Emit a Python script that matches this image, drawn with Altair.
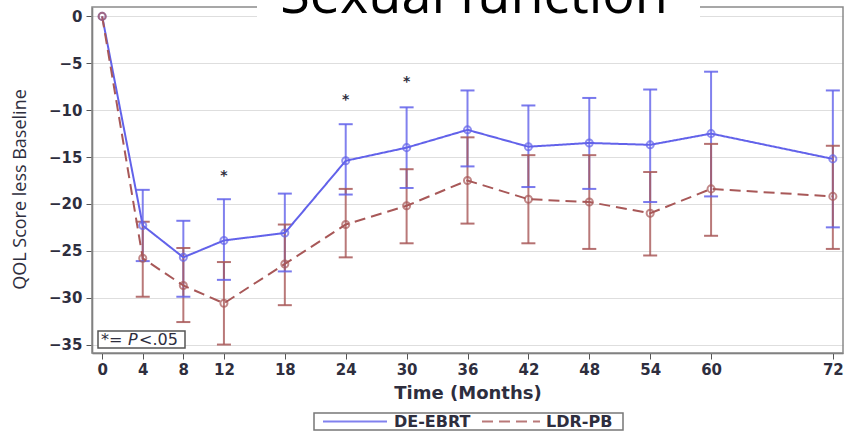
import altair as alt
import pandas as pd

# ---- data ----
months = [0, 4, 8, 12, 18, 24, 30, 36, 42, 48, 54, 60, 72]
ebrt_mean = [0, -22.3, -25.7, -23.9, -23.1, -15.4, -14.0, -12.1, -13.9, -13.5, -13.7, -12.5, -15.2]
ebrt_upper = [None, -18.5, -21.8, -19.5, -18.9, -11.5, -9.7, -7.9, -9.5, -8.7, -7.8, -5.9, -7.9]
ebrt_lower = [None, -26.1, -29.9, -28.1, -27.2, -19.0, -18.3, -16.0, -18.2, -18.4, -19.8, -19.2, -22.5]
ldr_mean = [0, -25.8, -28.7, -30.6, -26.4, -22.2, -20.2, -17.5, -19.5, -19.8, -21.0, -18.4, -19.2]
ldr_upper = [None, -21.9, -24.7, -26.2, -22.2, -18.4, -16.3, -12.9, -14.8, -14.8, -16.6, -13.6, -13.8]
ldr_lower = [None, -29.9, -32.6, -35.0, -30.8, -25.7, -24.2, -22.1, -24.2, -24.8, -25.5, -23.4, -24.8]
series_names = ["DE-EBRT", "LDR-PB"]
sig_months = [12, 24, 30]
sig_y = [-16.6, -8.5, -6.6]
x_ticks = [0, 4, 8, 12, 18, 24, 30, 36, 42, 48, 54, 60, 72]
y_ticks = [0, -5, -10, -15, -20, -25, -30, -35]
title_text = "Sexual function"

BLUE = "#6262ea"
RED = "#a85858"
TXT = "#2e2e3e"
DASH = [11, 6]

rows = []
for name, m, up, lo in [(series_names[0], ebrt_mean, ebrt_upper, ebrt_lower),
                        (series_names[1], ldr_mean, ldr_upper, ldr_lower)]:
    for t, v, u, l in zip(months, m, up, lo):
        rows.append({"month": t, "value": v, "upper": u, "lower": l, "group": name})
df = pd.DataFrame(rows)
df_err = df.dropna(subset=["upper"])
sig_df = pd.DataFrame({"month": sig_months, "y": sig_y})

W, H = 751, 346
xsc = alt.Scale(domain=[-1, 73], nice=False, zero=False)
ysc = alt.Scale(domain=[-35.9, 1.0], nice=False, zero=False)
csc = alt.Scale(domain=series_names, range=[BLUE, RED])
dsc = alt.Scale(domain=series_names, range=[[1, 0], DASH])


def col():
    return alt.Color("group:N", scale=csc, legend=None)


x_enc = alt.X("month:Q", scale=xsc,
              axis=alt.Axis(values=x_ticks, title="Time (Months)", grid=False,
                            labelFontSize=15, labelFont="DejaVu Sans", labelFontWeight="bold",
                            labelColor=TXT, titleFontSize=18, titleFont="DejaVu Sans",
                            titleFontWeight="bold", titleColor=TXT, titlePadding=7,
                            tickSize=6, tickColor="#555", domainColor="#666",
                            domainWidth=1.5, labelPadding=3))
y_enc = alt.Y("value:Q", scale=ysc,
              axis=alt.Axis(values=y_ticks, title="QOL Score less Baseline", grid=True,
                            gridColor="#dedede", labelFontSize=15, labelFont="DejaVu Sans",
                            labelFontWeight="bold", labelColor=TXT,
                            titleFont="Liberation Sans Narrow, Open Sans",
                            titleFontSize=18, titleFontWeight="normal", titleColor=TXT,
                            titleX=-72, titleY=182, titleBaseline="middle", titleAlign="center",
                            tickSize=6, tickColor="#555", domainColor="#666", domainWidth=1.5,
                            labelPadding=4))

base = alt.Chart(df)
one = pd.DataFrame({"a": [0]})

frame = alt.Chart(one).mark_rect(
    fillOpacity=0, stroke="#8a8a8a", strokeWidth=1.5).encode(
    x=alt.value(0), x2=alt.value(W), y=alt.value(0), y2=alt.value(H))

err_rule = alt.Chart(df_err).mark_rule(strokeWidth=2, opacity=0.8).encode(
    x=alt.X("month:Q", scale=xsc), y=alt.Y("upper:Q", scale=ysc), y2="lower:Q",
    color=col())
cap_hi = alt.Chart(df_err).mark_tick(size=14, thickness=2, opacity=0.85,
                                     orient="horizontal").encode(
    x=alt.X("month:Q", scale=xsc), y=alt.Y("upper:Q", scale=ysc), color=col())
cap_lo = alt.Chart(df_err).mark_tick(size=14, thickness=2, opacity=0.85,
                                     orient="horizontal").encode(
    x=alt.X("month:Q", scale=xsc), y=alt.Y("lower:Q", scale=ysc), color=col())

lines = base.mark_line(strokeWidth=2).encode(
    x=x_enc, y=y_enc, color=col(),
    strokeDash=alt.StrokeDash("group:N", scale=dsc, legend=None))

pts = base.mark_point(size=50, strokeWidth=2, filled=False).encode(
    x=alt.X("month:Q", scale=xsc), y=alt.Y("value:Q", scale=ysc), color=col())

stars = alt.Chart(sig_df).mark_text(text="*", fontSize=14, font="DejaVu Sans",
                                    fontWeight="bold", color=TXT, baseline="middle",
                                    dy=4).encode(
    x=alt.X("month:Q", scale=xsc), y=alt.Y("y:Q", scale=ysc))

# "*= P<.05" note box
pbox = alt.Chart(one).mark_rect(
    fill="white", stroke="#555", strokeWidth=1.5).encode(
    x=alt.value(6), x2=alt.value(93), y=alt.value(324), y2=alt.value(341))
ptxt1 = alt.Chart(one).mark_text(text="*=", fontSize=16, font="DejaVu Sans", color=TXT,
                                 align="left", baseline="middle").encode(
    x=alt.value(9), y=alt.value(333))
ptxt2 = alt.Chart(one).mark_text(text="P", fontSize=16, font="DejaVu Sans", color=TXT,
                                 fontStyle="italic", align="left", baseline="middle").encode(
    x=alt.value(36), y=alt.value(333))
ptxt3 = alt.Chart(one).mark_text(text="<.05", fontSize=16, font="DejaVu Sans", color=TXT,
                                 align="left", baseline="middle").encode(
    x=alt.value(47), y=alt.value(333))

# legend (drawn as a boxed key below the axis)
lbox = alt.Chart(one).mark_rect(fill="white", stroke="#777", strokeWidth=1.5).encode(
    x=alt.value(222), x2=alt.value(531), y=alt.value(406), y2=alt.value(423))
lkey1 = alt.Chart(one).mark_rule(color=BLUE, strokeWidth=2, opacity=0.8).encode(
    x=alt.value(231), x2=alt.value(295), y=alt.value(414.5))
lkey2 = alt.Chart(one).mark_rule(color=RED, strokeWidth=2, strokeDash=DASH,
                                 opacity=0.8).encode(
    x=alt.value(390), x2=alt.value(448), y=alt.value(414.5))
llab1 = alt.Chart(pd.DataFrame({"t": [series_names[0]]})).mark_text(
    fontSize=16, font="DejaVu Sans", fontWeight="bold", color=TXT, align="left",
    baseline="middle").encode(text="t:N", x=alt.value(302), y=alt.value(415))
llab2 = alt.Chart(pd.DataFrame({"t": [series_names[1]]})).mark_text(
    fontSize=16, font="DejaVu Sans", fontWeight="bold", color=TXT, align="left",
    baseline="middle").encode(text="t:N", x=alt.value(454), y=alt.value(415))

tbox = alt.Chart(one).mark_rect(fill="white").encode(
    x=alt.value(165), x2=alt.value(608), y=alt.value(-7), y2=alt.value(14))
ttl = alt.Chart(pd.DataFrame({"t": [title_text]})).mark_text(
    fontSize=54, font="Open Sans", color="black", align="center",
    baseline="alphabetic").encode(
    text="t:N", x=alt.value(382), y=alt.value(6))

chart = alt.layer(frame, err_rule, cap_hi, cap_lo, lines, pts, stars,
                  pbox, ptxt1, ptxt2, ptxt3,
                  lbox, lkey1, lkey2, llab1, llab2,
                  tbox, ttl).properties(
    width=W, height=H,
    autosize=alt.AutoSizeParams(type="none"),
    padding={"left": 92, "top": 7, "right": 5, "bottom": 78},
    background="white",
).configure_view(stroke=None)

chart.save("out.html", embed_options={"renderer": "svg", "actions": False})
